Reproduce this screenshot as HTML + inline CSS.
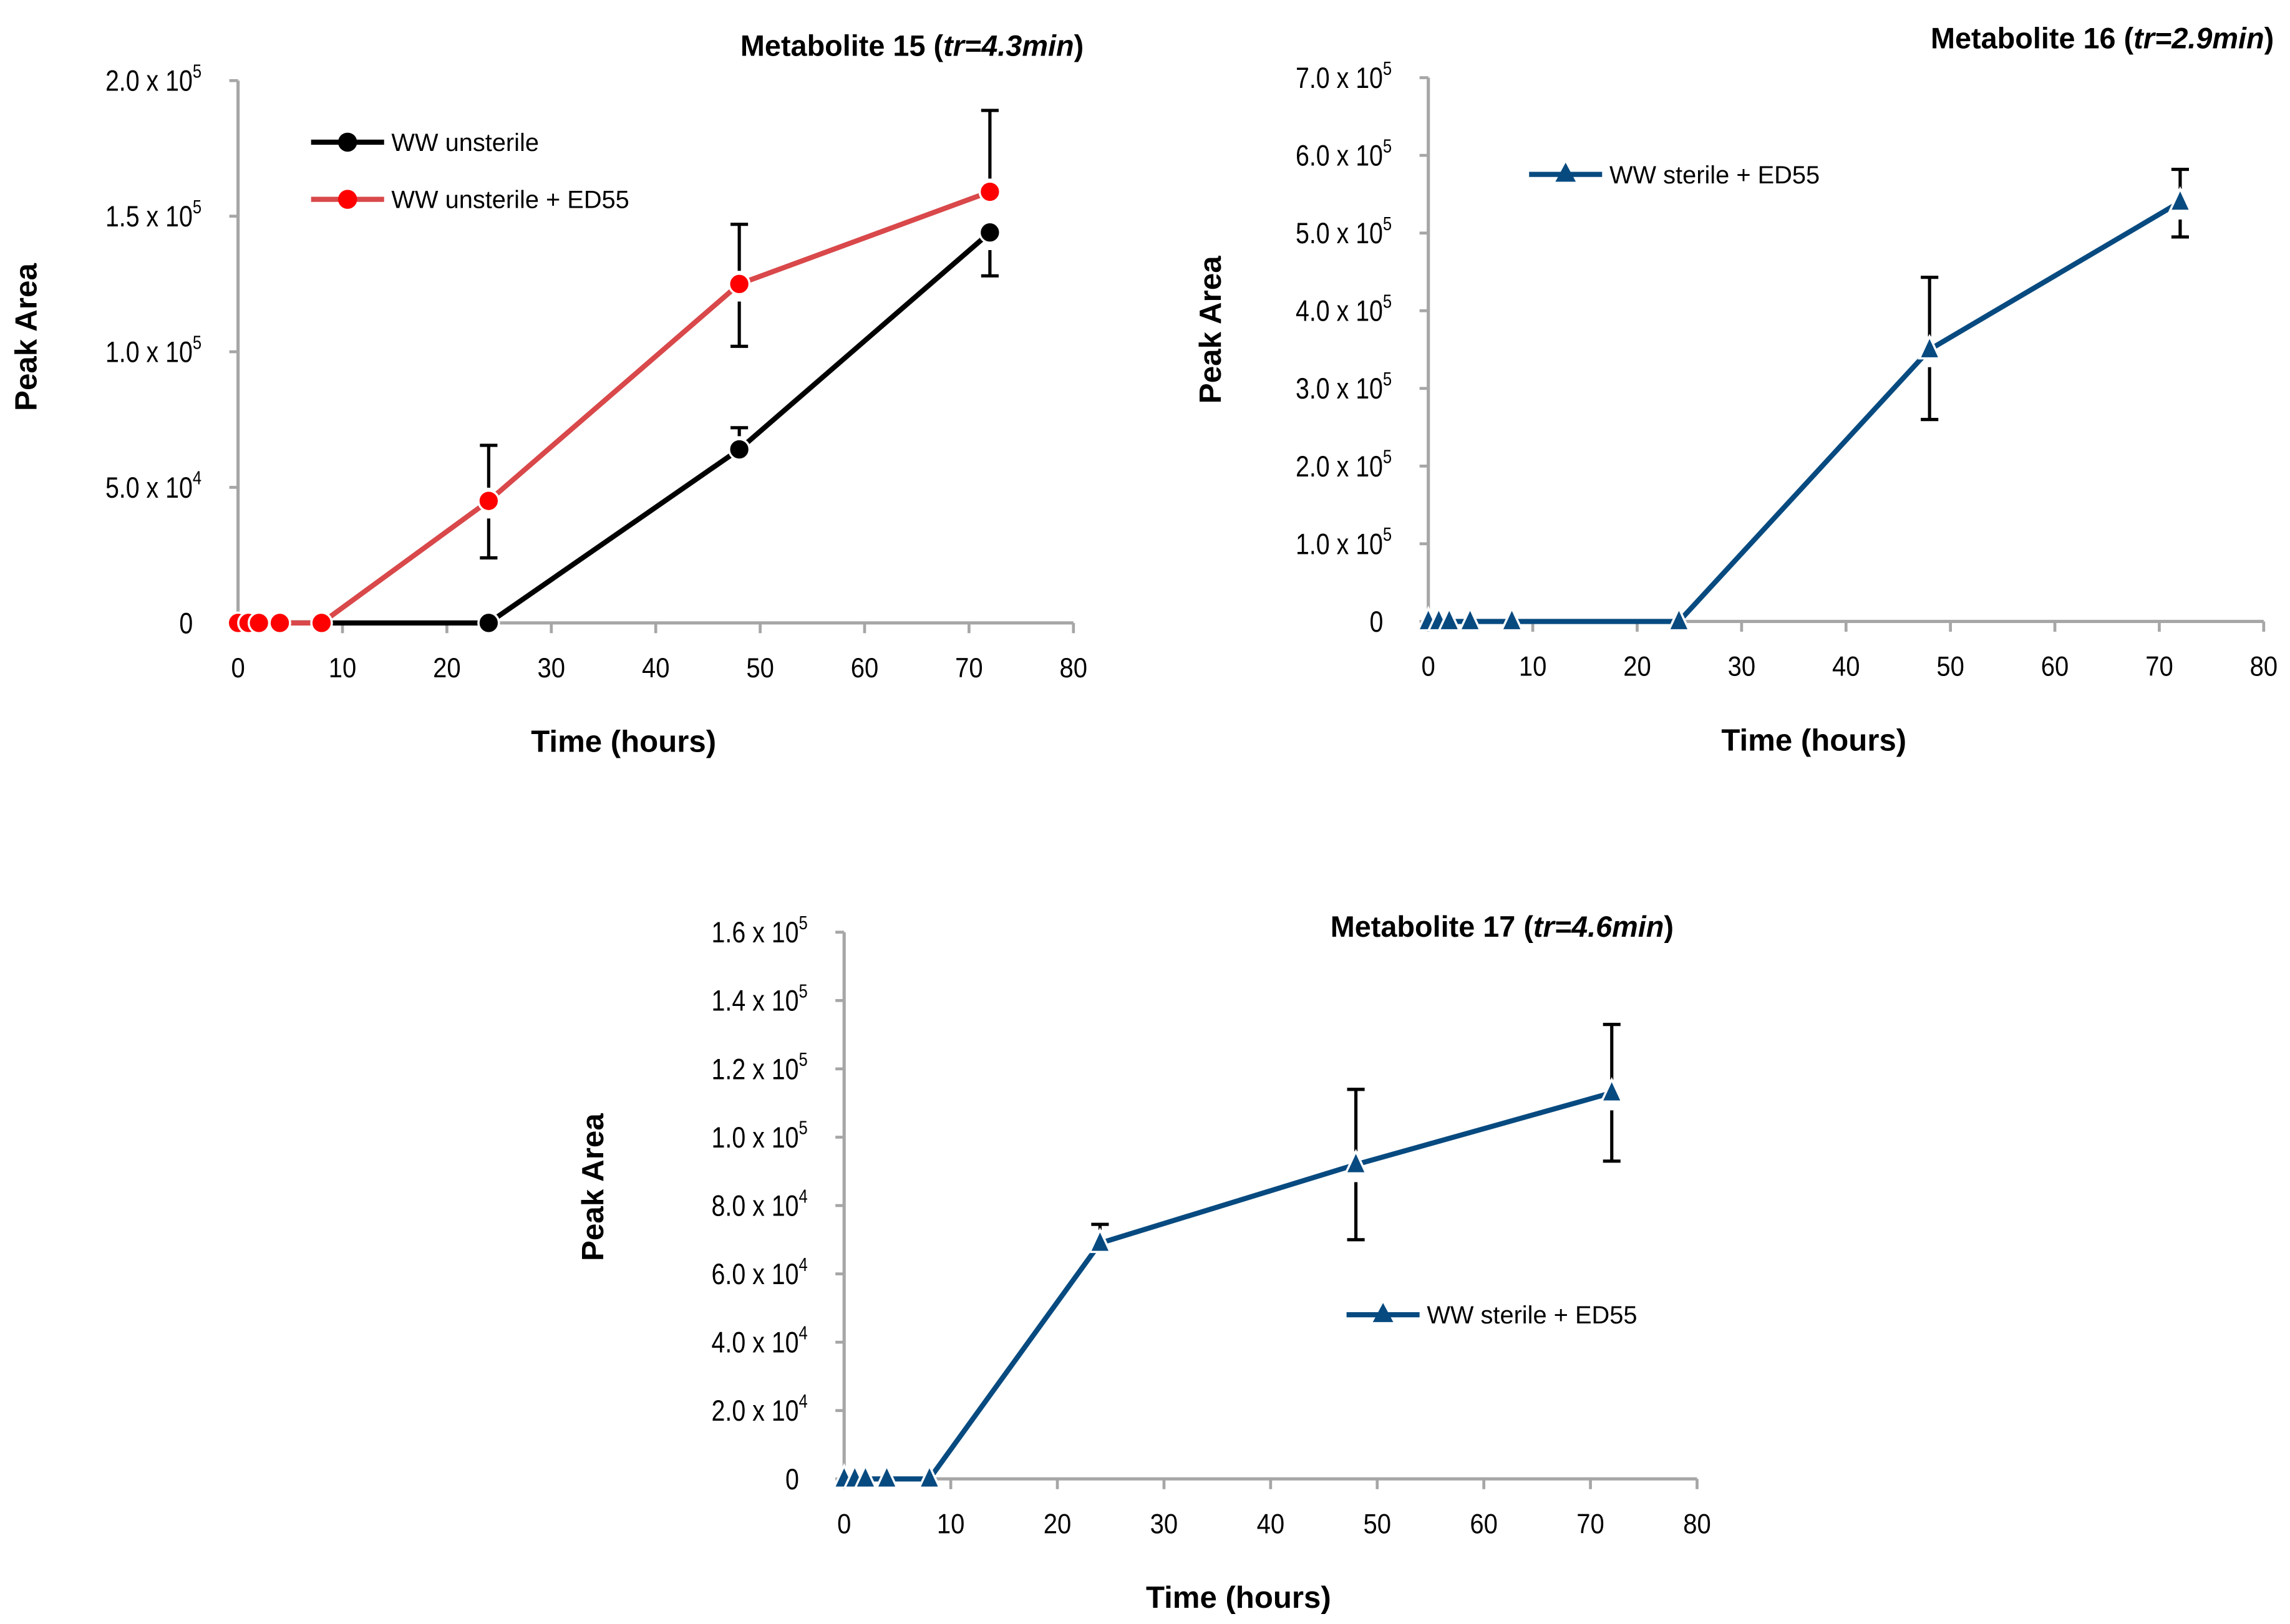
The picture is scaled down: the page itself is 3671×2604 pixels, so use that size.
<!DOCTYPE html>
<html><head><meta charset="utf-8"><style>
html,body{margin:0;padding:0;background:#fff;}
svg{display:block;}
text{font-family:"Liberation Sans",sans-serif;fill:#000;}
</style></head><body>
<svg id="fig" width="3671" height="2604" viewBox="0 0 1568 1108" preserveAspectRatio="none" xmlns="http://www.w3.org/2000/svg"></svg>
<script>
// ---- data ----
const timesHours = [0, 1, 2, 4, 8, 24, 48, 72];
const xTicks = [0, 10, 20, 30, 40, 50, 60, 70, 80];
// Metabolite 15
const m15Black = [0, 0, 0, 0, 0, 0, 64000, 144000];
const m15BlackErrUp = [0, 0, 0, 0, 0, 0, 8000, 0];
const m15BlackErrDown = [0, 0, 0, 0, 0, 0, 0, 16000];
const m15Red = [0, 0, 0, 0, 0, 45000, 125000, 159000];
const m15RedErrUp = [0, 0, 0, 0, 0, 20500, 22000, 30000];
const m15RedErrDown = [0, 0, 0, 0, 0, 21000, 23000, 0];
const m15YTicks = [0, 50000, 100000, 150000, 200000];
const m15YLabels = ["0", "5.0 x 10|4", "1.0 x 10|5", "1.5 x 10|5", "2.0 x 10|5"];
// Metabolite 16
const m16Blue = [0, 0, 0, 0, 0, 0, 350000, 540000];
const m16ErrUp = [0, 0, 0, 0, 0, 0, 93000, 42000];
const m16ErrDown = [0, 0, 0, 0, 0, 0, 90000, 45000];
const m16YTicks = [0, 100000, 200000, 300000, 400000, 500000, 600000, 700000];
const m16YLabels = ["0", "1.0 x 10|5", "2.0 x 10|5", "3.0 x 10|5", "4.0 x 10|5", "5.0 x 10|5", "6.0 x 10|5", "7.0 x 10|5"];
// Metabolite 17
const m17Blue = [0, 0, 0, 0, 0, 69000, 92000, 113000];
const m17ErrUp = [0, 0, 0, 0, 0, 5500, 22000, 20000];
const m17ErrDown = [0, 0, 0, 0, 0, 0, 22000, 20000];
const m17YTicks = [0, 20000, 40000, 60000, 80000, 100000, 120000, 140000, 160000];
const m17YLabels = ["0", "2.0 x 10|4", "4.0 x 10|4", "6.0 x 10|4", "8.0 x 10|4", "1.0 x 10|5", "1.2 x 10|5", "1.4 x 10|5", "1.6 x 10|5"];

const NS = "http://www.w3.org/2000/svg";
const svg = document.getElementById("fig");
function mk(tag, attrs, parent) {
  const e = document.createElementNS(NS, tag);
  for (const k in attrs) e.setAttribute(k, attrs[k]);
  (parent || svg).appendChild(e);
  return e;
}

function drawChart(cfg) {
  const g = mk("g", {});
  
  
  const xs = v => cfg.x0 + (v - 0) / 80 * (cfg.x1 - cfg.x0);
  const ys = v => cfg.y0 - v / cfg.yMax * (cfg.y0 - cfg.y1);
  const ax = mk("path", {d: `M${cfg.x0},${cfg.y1} V${cfg.y0} H${cfg.x1}`, stroke: "#a6a6a6", "stroke-width": 2.2, fill: "none"}, g);
  
  
  cfg.yTicks.forEach((t, i) => {
    const y = ys(t);
    mk("line", {x1: cfg.x0 - 6, x2: cfg.x0, y1: y, y2: y, stroke: "#a6a6a6", "stroke-width": 2}, g);
    const parts = cfg.yLabels[i].split("|");
    const ax0 = cfg.x0 - 25;
    const tx = mk("text", {x: ax0, y: y + 7, "font-size": 20, "text-anchor": "end", transform: `translate(${ax0},0) scale(0.84,1) translate(${-ax0},0)`}, g);
    
    
    if (parts[1]) {
      tx.innerHTML = parts[0] + '<tspan font-size="13" dy="-9">' + parts[1] + '</tspan>';
    } else {
      tx.textContent = parts[0];
      tx.setAttribute("x", cfg.x0 - 32);
    }
  });
  xTicks.forEach(t => {
    const x = xs(t);
    mk("line", {x1: x, x2: x, y1: cfg.y0, y2: cfg.y0 + 7, stroke: "#a6a6a6", "stroke-width": 2}, g);
    const tx = mk("text", {x: x, y: cfg.y0 + 37, "font-size": 19, "text-anchor": "middle", transform: `translate(${x},0) scale(0.9,1) translate(${-x},0)`}, g);
    
    
    tx.textContent = t;
  });
  const ti = mk("text", {x: cfg.titleX, y: cfg.titleY, "font-size": 20, "font-weight": "bold", "text-anchor": cfg.titleAnchor}, g);
  
  
  ti.innerHTML = cfg.title + ' (<tspan font-style="italic">' + cfg.tr + '</tspan>)';
  const xl = mk("text", {x: (cfg.x0 + cfg.x1) / 2 - 22, y: cfg.y0 + 88, "font-size": 21, "font-weight": "bold", "text-anchor": "middle"}, g);
  
  
  xl.textContent = "Time (hours)";
  const yl = mk("text", {x: 0, y: 0, "font-size": 21, "font-weight": "bold", "text-anchor": "middle", transform: `translate(${cfg.yTitleX},${cfg.yTitleY}) rotate(-90)`}, g);
  
  
  yl.textContent = "Peak Area";
  cfg.series.forEach(s => {
    const pts = timesHours.map((t, i) => [xs(t), ys(s.values[i])]);
    const ln = mk("polyline", {points: pts.map(p => p.join(",")).join(" "), stroke: s.line, "stroke-width": 3.5, fill: "none"}, g);
    
    
  });
  cfg.series.forEach(s => {
    timesHours.forEach((t, i) => {
      const x = xs(t), y = ys(s.values[i]);
      if (s.up[i] > 0) {
        const yy = ys(s.values[i] + s.up[i]);
        const e = mk("path", {d: `M${x},${y - 9} V${yy} M${x - 6},${yy} H${x + 6}`, stroke: "#000", "stroke-width": 2.2, fill: "none"}, g);
        
        
      }
      if (s.down[i] > 0) {
        const yy = ys(s.values[i] - s.down[i]);
        const e = mk("path", {d: `M${x},${y + 12} V${yy} M${x - 6},${yy} H${x + 6}`, stroke: "#000", "stroke-width": 2.2, fill: "none"}, g);
        
        
      }
    });
  });
  cfg.series.forEach(s => {
    timesHours.forEach((t, i) => {
      const x = xs(t), y = ys(s.values[i]);
      let m;
      if (s.marker === "circle") {
        m = mk("circle", {cx: x, cy: y, r: 7, fill: s.fill, stroke: "#fff", "stroke-width": 1.5}, g);
      } else {
        m = mk("path", {d: `M${x},${y - 9} L${x + 7},${y + 6} L${x - 7},${y + 6} Z`, fill: s.fill, stroke: "#fff", "stroke-width": 1.5}, g);
      }
      
      
    });
  });
  cfg.legend.forEach(L => {
    const lg = mk("g", {}, g);
    
    
    mk("line", {x1: L.x, x2: L.x + 50, y1: L.y, y2: L.y, stroke: L.line, "stroke-width": 3.5}, lg);
    if (L.marker === "circle") mk("circle", {cx: L.x + 25, cy: L.y, r: 6.5, fill: L.fill}, lg);
    else mk("path", {d: `M${L.x + 25},${L.y - 8} L${L.x + 32},${L.y + 5} L${L.x + 18},${L.y + 5} Z`, fill: L.fill}, lg);
    const t = mk("text", {x: L.x + 55, y: L.y + 6, "font-size": 17}, lg);
    t.textContent = L.label;
  });
}

drawChart({name: "chart-metabolite-15", x0: 163, x1: 735, y0: 425, y1: 55, yMax: 200000,
  yTicks: m15YTicks, yLabels: m15YLabels, title: "Metabolite 15", tr: "tr=4.3min",
  titleX: 742, titleY: 38, titleAnchor: "end", yTitleX: 25, yTitleY: 230,
  series: [
    {name: "ww-unsterile", values: m15Black, up: m15BlackErrUp, down: m15BlackErrDown, line: "#000", fill: "#000", marker: "circle"},
    {name: "ww-unsterile-ed55", values: m15Red, up: m15RedErrUp, down: m15RedErrDown, line: "#d9484a", fill: "#ff0000", marker: "circle"}
  ],
  legend: [
    {x: 213, y: 97, line: "#000", fill: "#000", marker: "circle", label: "WW unsterile"},
    {x: 213, y: 136, line: "#d9484a", fill: "#ff0000", marker: "circle", label: "WW unsterile + ED55"}
  ]});

drawChart({name: "chart-metabolite-16", x0: 978, x1: 1550, y0: 424, y1: 53, yMax: 700000,
  yTicks: m16YTicks, yLabels: m16YLabels, title: "Metabolite 16", tr: "tr=2.9min",
  titleX: 1557, titleY: 33, titleAnchor: "end", yTitleX: 836, yTitleY: 225,
  series: [{name: "ww-sterile-ed55", values: m16Blue, up: m16ErrUp, down: m16ErrDown, line: "#074a80", fill: "#074a80", marker: "tri"}],
  legend: [{x: 1047, y: 119, line: "#074a80", fill: "#074a80", marker: "tri", label: "WW sterile + ED55"}]});

drawChart({name: "chart-metabolite-17", x0: 578, x1: 1162, y0: 1009, y1: 636, yMax: 160000,
  yTicks: m17YTicks, yLabels: m17YLabels, title: "Metabolite 17", tr: "tr=4.6min",
  titleX: 1146, titleY: 639, titleAnchor: "end", yTitleX: 413, yTitleY: 810,
  series: [{name: "ww-sterile-ed55", values: m17Blue, up: m17ErrUp, down: m17ErrDown, line: "#074a80", fill: "#074a80", marker: "tri"}],
  legend: [{x: 922, y: 897, line: "#074a80", fill: "#074a80", marker: "tri", label: "WW sterile + ED55"}]});
</script>
</body></html>
